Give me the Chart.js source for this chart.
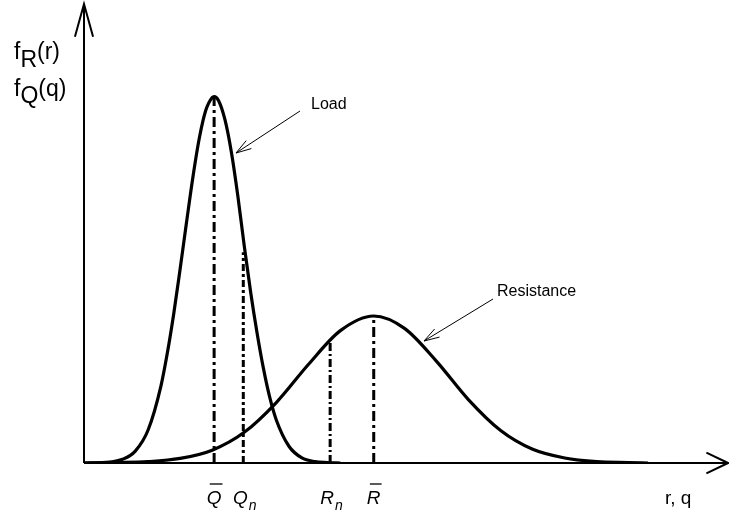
<!DOCTYPE html>
<html>
<head>
<meta charset="utf-8">
<script src="https://cdn.jsdelivr.net/npm/chart.js@4.4.0/dist/chart.umd.min.js"></script>
<style>
body{margin:0;background:#fff;}
</style>
</head>
<body>
<canvas id="myCanvas" width="729" height="514"></canvas>
<script>
// load and resistance curves (x in 0..100 along r,q axis, y relative density)
var loadX=[0,4,6,8,10,12,13,14,15,16,17,18,19,20,20.3,21,22,23,24,25,26,27,28,29,30,32,34,36,38,40];
var loadY=[0,0.002,0.008,0.026,0.072,0.168,0.240,0.326,0.424,0.526,0.625,0.710,0.770,0.798,0.800,0.791,0.749,0.678,0.583,0.474,0.373,0.284,0.206,0.142,0.094,0.036,0.011,0.003,0.001,0];
var resX=[0,5,10,15,20,25,30,35,40,45.2,50,55,60,65,70,75,80,85,88];
var resY=[0,0.001,0.003,0.010,0.028,0.067,0.132,0.215,0.289,0.321,0.294,0.222,0.138,0.071,0.030,0.011,0.003,0.001,0];
// marked values on the axis
var markName=['Q','Q','R','R'];
var markSub=['','n','n',''];
var markBar=[true,false,false,true];
var markX=[20.3,24.85,38.4,45.2];
var markTop=[0.80,0.46,0.269,0.321];
var markDash=[[10,4,3,4],[7,3,3,3],[8,3,2,3],[10,4,3,4]];

var FONT='"Liberation Sans", Arial, sans-serif';

function pts(xs,ys){
  var out=[];
  for(var i=0;i<xs.length;i++) out.push({x:xs[i],y:ys[i]});
  return out;
}

var sets=[
  {data:pts(loadX,loadY),borderColor:'#000',borderWidth:3.2,pointRadius:0,cubicInterpolationMode:'monotone'},
  {data:pts(resX,resY),borderColor:'#000',borderWidth:3.2,pointRadius:0,cubicInterpolationMode:'monotone'}
];
for(var i=0;i<markX.length;i++){
  sets.push({data:[{x:markX[i],y:0},{x:markX[i],y:markTop[i]}],borderColor:'#000',borderWidth:3,
    borderDash:markDash[i],pointRadius:0,tension:0});
}

function arrowHead(c,x0,y0,x1,y1,len,ang){
  var a=Math.atan2(y1-y0,x1-x0);
  c.beginPath();
  c.moveTo(x1-len*Math.cos(a-ang),y1-len*Math.sin(a-ang));
  c.lineTo(x1,y1);
  c.lineTo(x1-len*Math.cos(a+ang),y1-len*Math.sin(a+ang));
  c.stroke();
}

var extras={
  id:'extras',
  beforeDatasetsDraw:function(chart){
    var c=chart.ctx,a=chart.chartArea;
    c.save();
    c.strokeStyle='#000';
    c.lineWidth=2;
    c.beginPath();
    c.moveTo(a.left,a.bottom);c.lineTo(a.left,a.top);
    c.moveTo(a.left,a.bottom);c.lineTo(a.right+2,a.bottom);
    c.stroke();
    arrowHead(c,a.left,a.bottom,a.left,a.top-1,34,0.27);
    arrowHead(c,a.left,a.bottom,a.right+3,a.bottom,24,0.45);
    c.restore();
  },
  afterDraw:function(chart){
    var c=chart.ctx,xs=chart.scales.x;
    c.save();
    c.fillStyle='#000';c.strokeStyle='#000';
    c.textBaseline='alphabetic';c.textAlign='left';
    // y axis title
    c.font='23px '+FONT;
    var fw=c.measureText('f').width;
    c.fillText('f',14,59);
    c.fillText('R',14+fw,67);
    c.fillText('(r)',14+fw+c.measureText('R').width,59);
    c.fillText('f',14,96);
    c.fillText('Q',14+fw,103);
    c.fillText('(q)',14+fw+c.measureText('Q').width,96);
    // x axis title
    c.font='19px '+FONT;
    c.fillText('r, q',665,504);
    // marks under the axis
    for(var i=0;i<markX.length;i++){
      c.font='italic 19px '+FONT;
      var mw=c.measureText(markName[i]).width;
      var px=xs.getPixelForValue(markX[i]);
      var x0=markSub[i]?px-mw/2-3:px-mw/2;
      c.fillText(markName[i],x0,504);
      if(markSub[i]){
        c.font='italic 14px '+FONT;
        c.fillText(markSub[i],x0+mw+1,510);
      }
      if(markBar[i]){
        c.lineWidth=1.3;
        c.beginPath();c.moveTo(x0+3,484);c.lineTo(x0+mw+1,484);c.stroke();
      }
    }
    // pointers
    c.lineWidth=1;
    c.beginPath();c.moveTo(300,111);c.lineTo(236,153);c.stroke();
    arrowHead(c,300,111,236,153,16,0.3);
    c.beginPath();c.moveTo(493,299);c.lineTo(424,341);c.stroke();
    arrowHead(c,493,299,424,341,16,0.3);
    c.font='16px '+FONT;
    c.fillText('Load',311,109);
    c.fillText('Resistance',497,296);
    c.restore();
  }
};

var ctx=document.getElementById('myCanvas');
var chart=new Chart(ctx,{
  type:'line',
  data:{datasets:sets},
  options:{
    responsive:false,
    animation:false,
    layout:{padding:{left:84,right:4,top:5,bottom:51}},
    plugins:{legend:{display:false},tooltip:{enabled:false}},
    scales:{
      x:{type:'linear',min:0,max:100,display:false},
      y:{min:0,max:1,display:false}
    }
  },
  plugins:[extras]
});
</script>
</body>
</html>
